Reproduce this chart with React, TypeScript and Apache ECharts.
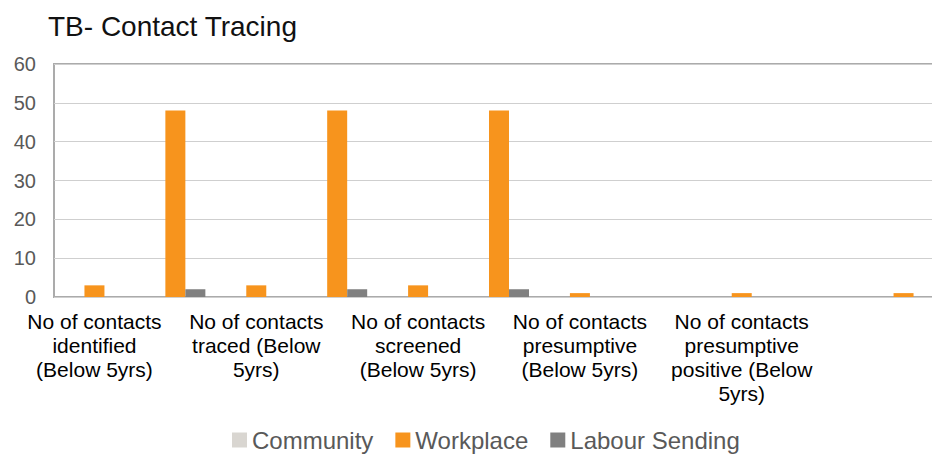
import React, { useEffect, useRef } from "react";
import * as echarts from "echarts";

const categories: string[] = [
  "No of contacts\nidentified\n(Below 5yrs)",
  "No of contacts\nidentified\n(Above 5yrs)",
  "No of contacts\ntraced (Below\n5yrs)",
  "No of contacts\ntraced (Above\n5yrs)",
  "No of contacts\nscreened\n(Below 5yrs)",
  "No of contacts\nscreened\n(Above 5yrs)",
  "No of contacts\npresumptive\n(Below 5yrs)",
  "No of contacts\npresumptive\n(Above 5yrs)",
  "No of contacts\npresumptive\npositive (Below\n5yrs)",
  "No of contacts\npresumptive\npositive (Above\n5yrs)",
  "No of contacts\non treatment",
];

const seriesNames: string[] = ["Community", "Workplace", "Labour Sending"];
const community: number[] = [0, 0, 0, 0, 0, 0, 0, 0, 0, 0, 0];
const workplace: number[] = [3, 48, 3, 48, 3, 48, 1, 0, 1, 0, 1];
const labourSending: number[] = [0, 2, 0, 2, 0, 2, 0, 0, 0, 0, 0];
const colors: string[] = ["#D9D6D1", "#F7941D", "#808080"];

const yMin = 0;
const yMax = 60;
const yInterval = 10;

export default function App() {
  const ref = useRef<HTMLDivElement>(null);
  useEffect(() => {
    if (!ref.current) return;
    const chart = echarts.init(ref.current, null, { renderer: "svg" });
    const font = "'Liberation Sans', Arial, sans-serif";
    const data = [community, workplace, labourSending];
    chart.setOption({
      animation: false,
      backgroundColor: "#ffffff",
      textStyle: { fontFamily: font },
      title: {
        text: "TB- Contact Tracing",
        left: 43,
        top: 7,
        textStyle: { fontFamily: font, fontSize: 28, fontWeight: "normal", color: "#111111" },
      },
      legend: {
        left: 227,
        top: 423,
        itemWidth: 15,
        itemHeight: 15,
        itemGap: 22,
        icon: "rect",
        textStyle: { fontFamily: font, fontSize: 24, color: "#595959" },
        data: seriesNames,
      },
      grid: {
        left: 54,
        right: 0,
        top: 64,
        bottom: 158,
        show: true,
        borderColor: "#ababab",
        borderWidth: 2,
        backgroundColor: "transparent",
      },
      xAxis: {
        type: "category",
        data: categories,
        axisLine: { show: false },
        axisTick: { show: false },
        axisLabel: {
          interval: (index: number) => index % 2 === 0 && index < 10,
          fontFamily: font,
          fontSize: 21,
          lineHeight: 24,
          color: "#000000",
          margin: 12,
        },
      },
      yAxis: {
        type: "value",
        min: yMin,
        max: yMax,
        interval: yInterval,
        axisLine: { show: false },
        axisTick: { show: false },
        axisLabel: { fontFamily: font, fontSize: 20, color: "#595959", margin: 18 },
        splitLine: { lineStyle: { color: "#cfcfcf", width: 1 } },
      },
      series: seriesNames.map((name, i) => ({
        name,
        type: "bar",
        data: data[i],
        barWidth: 20,
        barGap: "0%",
        itemStyle: { color: colors[i] },
      })),
    });
    return () => chart.dispose();
  }, []);
  return (
    <div
      ref={ref}
      style={{ position: "fixed", left: 0, top: 0, width: 944, height: 455 }}
    />
  );
}
